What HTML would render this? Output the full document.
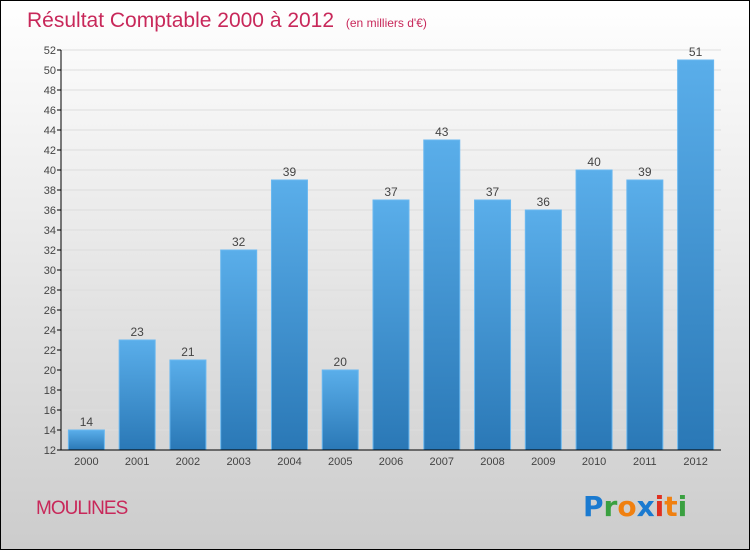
<!DOCTYPE html>
<html><head><meta charset="utf-8"><style>
html,body{margin:0;padding:0}
body{width:750px;height:550px;overflow:hidden;font-family:"Liberation Sans",sans-serif}
</style></head><body>
<svg id="chart" width="750" height="550" xmlns="http://www.w3.org/2000/svg">
<defs>
<linearGradient id="bg" x1="0" y1="0" x2="0" y2="1"><stop offset="0" stop-color="#ffffff"/><stop offset="1" stop-color="#cccccc"/></linearGradient>
<linearGradient id="bar" x1="0" y1="0" x2="0" y2="1"><stop offset="0" stop-color="#5aaeea"/><stop offset="1" stop-color="#2a78b6"/></linearGradient>
</defs>
<rect x="0.5" y="0.5" width="749" height="549" fill="url(#bg)" stroke="#000"/>
<text x="27" y="27" font-size="21" fill="#c8285a" style="font-weight:300">Résultat Comptable 2000 à 2012 <tspan font-size="12" dx="6">(en milliers d'€)</tspan></text>
<g id="grid"></g><g id="bars"></g><g id="axes"></g>
<text x="36" y="514" font-size="19" fill="#c8285a" letter-spacing="-1">MOULINES</text>
<g font-size="28" font-weight="bold" font-family="'DejaVu Sans',sans-serif">
<text x="583" y="516"><tspan fill="#1a7ad0">P</tspan><tspan fill="#3aa040">r</tspan><tspan fill="#f08010">o</tspan><tspan fill="#1a7ad0">x</tspan><tspan fill="#e03020">i</tspan><tspan fill="#f08010">t</tspan><tspan fill="#3aa040">i</tspan></text>
</g>
</svg>
<script>
const categories=["2000","2001","2002","2003","2004","2005","2006","2007","2008","2009","2010","2011","2012"];
const values=[14,23,21,32,39,20,37,43,37,36,40,39,51];
const yTicks=[12,14,16,18,20,22,24,26,28,30,32,34,36,38,40,42,44,46,48,50,52];
const NS="http://www.w3.org/2000/svg";
const yMin=12,yMax=52,plotTop=50,plotBot=450,plotLeft=61,plotRight=721;
const yScale=v=>plotBot-(v-yMin)/(yMax-yMin)*(plotBot-plotTop);
const step=(plotRight-plotLeft)/categories.length;
const xc=i=>plotLeft+step*(i+0.5);
function mk(t,a,p){const e=document.createElementNS(NS,t);for(const k in a)e.setAttribute(k,a[k]);p.appendChild(e);return e;}
const grid=document.getElementById('grid'),bars=document.getElementById('bars'),axes=document.getElementById('axes');
yTicks.forEach(v=>{
 const g=mk('line',{x1:plotLeft,x2:plotRight,y1:yScale(v),y2:yScale(v),stroke:'#dddddd'},grid);
 
 
 const tk=mk('line',{x1:plotLeft-4,x2:plotLeft,y1:yScale(v),y2:yScale(v),stroke:'#000'},axes);
 
 
 const t=mk('text',{x:plotLeft-5,y:yScale(v)+4,'text-anchor':'end','font-size':11,fill:'#444'},axes);
 t.textContent=v;
 
 
});
const bw=36;
values.forEach((v,i)=>{
 const r=mk('rect',{x:xc(i)-bw/2,y:yScale(v),width:bw,height:plotBot-yScale(v),fill:'url(#bar)',stroke:'#6ab8f0','stroke-width':1},bars);
 
 
 const t=mk('text',{x:xc(i),y:yScale(v)-4,'text-anchor':'middle','font-size':12,fill:'#444'},bars);
 t.textContent=v;
 
 
 const c=mk('text',{x:xc(i),y:plotBot+15,'text-anchor':'middle','font-size':11,fill:'#444'},axes);
 c.textContent=categories[i];
 
 
});
const ya=mk('line',{x1:plotLeft,x2:plotLeft,y1:plotTop,y2:plotBot,stroke:'#000'},axes);


const xa=mk('line',{x1:plotLeft,x2:plotRight,y1:plotBot,y2:plotBot,stroke:'#000'},axes);


</script>
</body></html>
